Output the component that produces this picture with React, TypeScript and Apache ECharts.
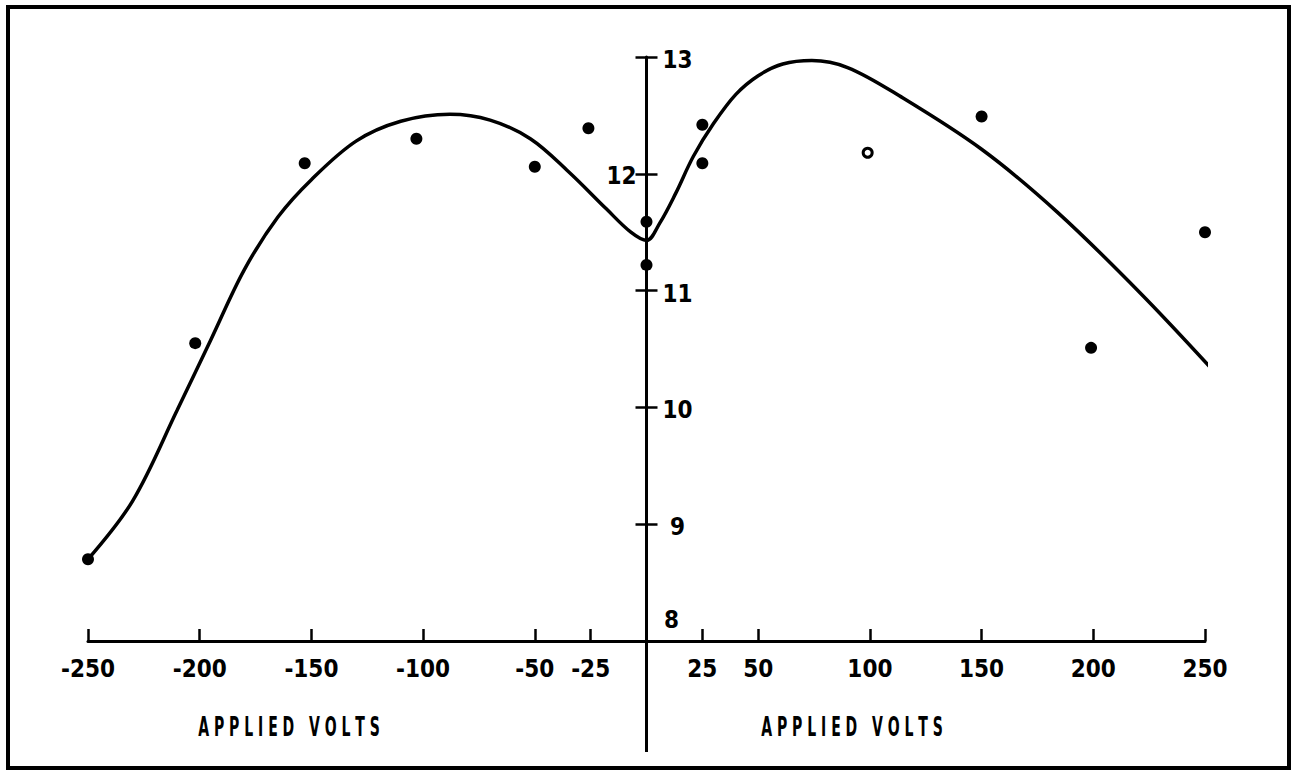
import React, { useEffect, useRef } from "react";
import * as echarts from "echarts";

// Tick values
const xTickValues = [-250, -200, -150, -100, -50, -25, 25, 50, 100, 150, 200, 250];
const yTickValues = [9, 10, 11, 12, 13];
const yLabelValues = [13, 12, 11, 10, 9, 8];

// Measured points (filled dots)
const filledX = [-250, -202, -153, -103, -50, -26, 0, 0, 25, 25, 50, 150, 199, 250];
const filledY = [8.7, 10.55, 12.09, 12.3, 12.06, 12.39, 11.59, 11.22, 12.42, 12.09, 13.14, 12.49, 10.51, 11.5];

// Open circle point
const openX = [99];
const openY = [12.18];

// Fitted curve
const curveX = [-250, -230, -210, -195, -180, -165, -150, -130, -110, -88, -70, -52, -35, -18, -7, 0, 6, 13, 21, 30, 40, 50, 61, 74, 90, 113, 150, 184, 221, 253];
const curveY = [8.7, 9.2, 9.98, 10.58, 11.18, 11.63, 11.95, 12.28, 12.45, 12.51, 12.46, 12.3, 12.02, 11.7, 11.5, 11.43, 11.58, 11.83, 12.15, 12.43, 12.68, 12.84, 12.94, 12.97, 12.91, 12.67, 12.21, 11.67, 10.98, 10.33];

const axisTitle = "A P P L I E D   V O L T S";

export default function App() {
  const ref = useRef<HTMLDivElement>(null);
  useEffect(() => {
    document.body.style.margin = "0";
    const chart = echarts.init(ref.current!, null, { renderer: "svg" });
    const font = "'Liberation Sans Narrow', 'DejaVu Sans Condensed', sans-serif";
    const labelOffset = (v: number) => (v === 12 ? [-25, 2] : v === 8 ? [25, -21] : [31, 3]);
    const option: any = {
      animation: false,
      backgroundColor: "#ffffff",
      grid: { left: 88, right: 87, top: 57, bottom: 131, containLabel: false },
      xAxis: {
        type: "value",
        min: -250,
        max: 250,
        axisLine: { lineStyle: { color: "#000", width: 3 } },
        axisTick: { show: true, inside: true, length: 12, customValues: xTickValues, lineStyle: { color: "#000", width: 2.5 } },
        axisLabel: { customValues: xTickValues, margin: 16, fontFamily: font, fontSize: 24, fontWeight: "bold", color: "#000" },
        splitLine: { show: false },
      },
      yAxis: [
        {
          type: "value",
          position: "left",
          min: 8,
          max: 13,
          axisLine: { show: true, onZero: true, onZeroAxisIndex: 0, lineStyle: { color: "#000", width: 3 } },
          axisTick: { show: true, inside: false, length: 11, customValues: yTickValues, lineStyle: { color: "#000", width: 2.5 } },
          axisLabel: { show: false },
          splitLine: { show: false },
        },
        {
          type: "value",
          position: "left",
          min: 8,
          max: 13,
          axisLine: { show: false, onZero: true, onZeroAxisIndex: 0 },
          axisTick: { show: true, inside: true, length: 11, customValues: yTickValues, lineStyle: { color: "#000", width: 2.5 } },
          axisLabel: { show: false },
          splitLine: { show: false },
        },
      ],
      series: [
        {
          name: "curve",
          type: "line",
          data: curveX.map((x, i) => [x, curveY[i]]),
          smooth: 0.35,
          showSymbol: false,
          symbol: "none",
          lineStyle: { color: "#000", width: 3.5 },
          silent: true,
          z: 3,
        },
        {
          name: "measured",
          type: "scatter",
          data: filledX.map((x, i) => [x, filledY[i]]),
          symbol: "circle",
          symbolSize: 12,
          itemStyle: { color: "#000", opacity: 1 },
          silent: true,
          z: 4,
        },
        {
          name: "open",
          type: "scatter",
          data: openX.map((x, i) => [x, openY[i]]),
          symbol: "circle",
          symbolSize: 9,
          itemStyle: { color: "#fff", borderColor: "#000", borderWidth: 3, opacity: 1 },
          silent: true,
          z: 4,
        },
        {
          name: "yLabels",
          type: "scatter",
          data: yLabelValues.map((v) => ({
            value: [0, v],
            label: { offset: labelOffset(v) },
          })),
          symbolSize: 0,
          silent: true,
          itemStyle: { opacity: 1 },
          label: {
            show: true,
            position: "inside",
            formatter: (p: any) => String(p.value[1]),
            fontFamily: font,
            fontSize: 24,
            fontWeight: "bold",
            color: "#000",
          },
          z: 5,
        },
      ],
    };
    chart.setOption(option);
    const p = chart.convertToPixel({ xAxisIndex: 0, yAxisIndex: 0 }, [0, 8]) as number[];
    const titleStyle = { text: axisTitle, fontFamily: font, fontSize: 26, fontWeight: "bold", fill: "#000", textAlign: "center", textVerticalAlign: "middle" };
    chart.setOption({
      graphic: [
        {
          type: "rect",
          shape: { x: 8, y: 7, width: 1281, height: 761 },
          style: { fill: "none", stroke: "#000", lineWidth: 4 },
          silent: true,
        },
        {
          type: "line",
          shape: { x1: p[0], y1: p[1], x2: p[0], y2: 752 },
          style: { stroke: "#000", lineWidth: 3 },
          silent: true,
        },
        { type: "text", x: 289, y: 727, scaleX: 0.6, style: titleStyle, silent: true },
        { type: "text", x: 852, y: 727, scaleX: 0.6, style: titleStyle, silent: true },
      ],
    });
    return () => chart.dispose();
  }, []);
  return <div ref={ref} style={{ width: 1292, height: 772 }} />;
}
